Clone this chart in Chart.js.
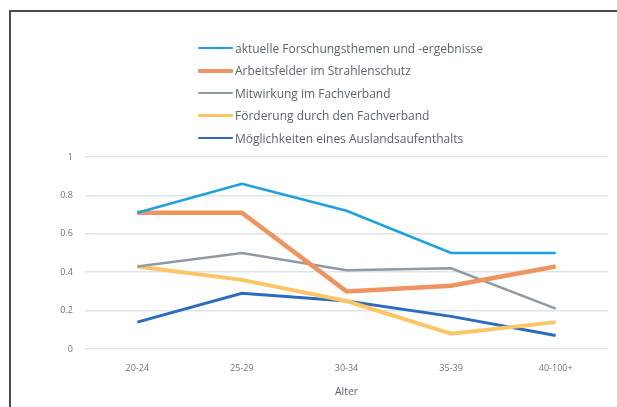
<!DOCTYPE html>
<html>
<head>
<meta charset="utf-8">
<script src="https://cdn.jsdelivr.net/npm/chart.js@4"></script>
<style>
  body { margin: 0; background: #fff; }
  #wrap { position: relative; width: 617px; height: 407px; overflow: hidden; }
  #frame { position: absolute; left: 9px; top: 10px; right: -5px; bottom: -5px;
           border-left: 2px solid #4a4a4a; border-top: 2px solid #4a4a4a; }
  #chart { position: absolute; left: 0; top: 0; }
  #legend { position: absolute; left: 198px; top: 37px; font-family: 'Open Sans', sans-serif;
            font-size: 12px; color: #5a6570; }
  .item { height: 22.5px; display: flex; align-items: center; }
  .swatch { width: 35px; margin-right: 2px; border-radius: 1px; }
</style>
</head>
<body>
<div id="wrap">
  <div id="frame"></div>
  <canvas id="chart" width="617" height="407"></canvas>
  <div id="legend"></div>
</div>
<script>
const ageGroups = ['20-24', '25-29', '30-34', '35-39', '40-100+']

const seriesNames = [
    'aktuelle Forschungsthemen und -ergebnisse',
    'Arbeitsfelder im Strahlenschutz',
    'Mitwirkung im Fachverband',
    'Förderung durch den Fachverband',
    'Möglichkeiten eines Auslandsaufenthalts'
]

const forschung = [0.71, 0.86, 0.72, 0.50, 0.50]
const arbeitsfelder = [0.71, 0.71, 0.30, 0.33, 0.43]
const mitwirkung = [0.43, 0.50, 0.41, 0.42, 0.21]
const foerderung = [0.43, 0.36, 0.25, 0.08, 0.14]
const ausland = [0.14, 0.29, 0.25, 0.17, 0.07]

const yTicks = [0, 0.2, 0.4, 0.6, 0.8, 1]
const axisTitle = 'Alter'

const colors = ['#1ba1e2', '#f0945f', '#8f9aa3', '#fcc665', '#2b6cbf']
const widths = [2.5, 4.5, 2.5, 4, 3]
const values = [forschung, arbeitsfelder, mitwirkung, foerderung, ausland]

let datasets = []
for (let i = 0; i < values.length; i++) {
    datasets.push({
        label: seriesNames[i],
        data: values[i],
        borderColor: colors[i],
        backgroundColor: colors[i],
        borderWidth: widths[i],
        pointRadius: 0,
        tension: 0,
        fill: false
    })
}

const tickFont = { family: "'Open Sans', sans-serif", size: 9 }

const chart = new Chart(document.getElementById('chart'), {
    type: 'line',
    data: { labels: ageGroups, datasets: datasets },
    options: {
        responsive: false,
        animation: false,
        layout: { padding: { left: 10, right: 9, top: 157, bottom: 8 } },
        plugins: { legend: { display: false }, tooltip: { enabled: false } },
        scales: {
            x: {
                offset: true,
                grid: { display: false, drawTicks: false },
                border: { display: false },
                ticks: { font: tickFont, color: '#6b7680', padding: 14 },
                title: { display: true, text: axisTitle, font: { family: "'Open Sans', sans-serif", size: 10.5 },
                         color: '#5a6570', padding: { top: 0, bottom: 1 } },
                afterFit: (scale) => { scale.height = 50 }
            },
            y: {
                min: 0,
                max: 1,
                afterBuildTicks: (scale) => { scale.ticks = yTicks.map(v => ({ value: v })) },
                grid: { color: '#dde5ec', lineWidth: 1.5, drawTicks: false },
                border: { display: false },
                ticks: { font: tickFont, color: '#6b7680', padding: 12, callback: (v) => String(v) },
                afterFit: (scale) => { scale.width = 75 }
            }
        }
    }
})

// legend as a vertical list like the original
const legendBox = document.getElementById('legend')
chart.data.datasets.forEach(ds => {
    const row = document.createElement('div')
    row.className = 'item'
    const sw = document.createElement('span')
    sw.className = 'swatch'
    sw.style.background = ds.borderColor
    sw.style.height = Math.max(2, Math.round(ds.borderWidth * 0.8)) + 'px'
    const txt = document.createElement('span')
    txt.textContent = ds.label
    row.appendChild(sw)
    row.appendChild(txt)
    legendBox.appendChild(row)
})
</script>
</body>
</html>
